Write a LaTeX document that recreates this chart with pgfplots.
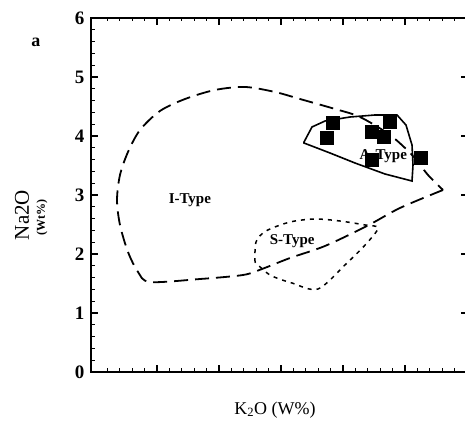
\documentclass[border=0pt]{standalone}
\usepackage{pgfplots}
\pgfplotsset{compat=1.18}
\usepackage{fontspec}
\setmainfont{Liberation Serif}
\begin{document}
\begin{tikzpicture}
\begin{axis}[name=ax, scale only axis, width=377pt, height=354pt,
  xmin=-0.0645, xmax=6.016, ymin=0, ymax=6, clip=false,
  xtick={1,2,3,4,5,6}, xticklabels={}, minor x tick num=4,
  ytick={0,1,2,3,4,5,6}, minor y tick num=4,
  xtick align=inside, ytick align=inside,
  major tick length=7pt, minor tick length=3.5pt,
  every tick/.style={draw=black, line width=1.3pt},
  every minor tick/.style={draw=black, line width=1.1pt},
  axis line style={line width=1.6pt},
  yticklabel style={font=\fontsize{19}{19}\selectfont\bfseries, xshift=-3pt},
  /pgf/number format/assume math mode=true,
]
% explicit tick marks
\pgfplotsinvokeforeach{1,2,3,4,5,6}{
  \draw[line width=1.3pt] (axis cs:#1,0) -- ++(0pt,7pt);
  \draw[line width=1.3pt] (axis cs:#1,6) -- ++(0pt,-7pt);
}
\pgfplotsinvokeforeach{0.2,0.4,0.6,0.8,1.2,1.4,1.6,1.8,2.2,2.4,2.6,2.8,3.2,3.4,3.6,3.8,4.2,4.4,4.6,4.8,5.2,5.4,5.6,5.8}{
  \draw[line width=1.1pt] (axis cs:#1,0) -- ++(0pt,3.5pt);
  \draw[line width=1.1pt] (axis cs:#1,6) -- ++(0pt,-3.5pt);
  \draw[line width=1.1pt] (axis cs:-0.0645,#1) -- ++(3.5pt,0pt);
  \draw[line width=1.1pt] (axis cs:6.016,#1) -- ++(-3.5pt,0pt);
}
\pgfplotsinvokeforeach{1,2,3,4,5}{
  \draw[line width=1.3pt] (axis cs:-0.0645,#1) -- ++(7pt,0pt);
  \draw[line width=1.3pt] (axis cs:6.016,#1) -- ++(-7pt,0pt);
}
% I-Type field
\addplot[black, line width=1.8pt, dash pattern=on 14pt off 7pt, smooth, tension=0.5] coordinates {
(5.613,3.085) (4.919,2.780) (4.387,2.475) (3.710,2.136) (3.145,1.932) (2.694,1.746)
(2.387,1.644) (1.694,1.576) (0.887,1.525) (0.694,1.695) (0.532,2.034) (0.403,2.492)
(0.355,2.915) (0.403,3.339) (0.532,3.729) (0.726,4.102) (1.048,4.424) (1.452,4.627)
(1.935,4.780) (2.419,4.831) (2.903,4.746) (3.306,4.627) (3.871,4.458) (4.274,4.322)
(4.758,4.017) (5.113,3.678) (5.371,3.339) (5.613,3.085)};
% A-Type field
\addplot[black, line width=1.6pt] coordinates {
(3.371,3.898) (3.500,4.153) (3.710,4.254) (4.113,4.322) (4.516,4.356) (4.871,4.356)
(5.016,4.186) (5.113,3.847) (5.129,3.508) (5.113,3.237) (4.677,3.356) (4.194,3.542)
(3.790,3.712) (3.371,3.881)} -- cycle;
% S-Type field
\addplot[black, line width=1.5pt, dash pattern=on 4pt off 5pt, smooth, tension=0.5] coordinates {
(2.581,1.864) (2.597,2.203) (2.758,2.390) (3.145,2.542) (3.548,2.593) (3.952,2.559)
(4.355,2.492) (4.565,2.441) (4.371,2.169) (4.048,1.831) (3.597,1.407) (3.177,1.508)
(2.823,1.644) (2.581,1.864)};
\node[font=\fontsize{15}{15}\selectfont\bfseries] at (axis cs:1.53,2.92) {I-Type};
\node[font=\fontsize{15}{15}\selectfont\bfseries] at (axis cs:3.18,2.22) {S-Type};
\node[font=\fontsize{15}{15}\selectfont\bfseries] at (axis cs:4.65,3.66) {A-Type};
% samples
\addplot[only marks, mark=square*, mark size=6.5pt, black] coordinates {
(3.84,4.22) (3.73,3.97) (4.76,4.24) (4.47,4.07) (4.66,3.98) (5.26,3.63) (4.47,3.59)};
\end{axis}
\node[rotate=90, font=\fontsize{21}{21}\selectfont] at ([xshift=-69pt,yshift=-20pt]ax.west) {Na2O};
\node[rotate=90, font=\fontsize{12}{12}\selectfont\bfseries] at ([xshift=-49pt,yshift=-23pt]ax.west) {(Wt\%)};
\node[font=\fontsize{18}{18}\selectfont, anchor=center] at ([xshift=184pt,yshift=-38pt]ax.south west) {K\textsubscript{2}O (W\%)};
\node[font=\fontsize{18}{18}\selectfont\bfseries] at ([xshift=-55pt,yshift=-24pt]ax.north west) {a};
\pgfresetboundingbox
\path[use as bounding box] ([xshift=-91pt,yshift=-50pt]ax.south west) rectangle ([xshift=-3pt,yshift=18pt]ax.north east);
\end{tikzpicture}
\end{document}
